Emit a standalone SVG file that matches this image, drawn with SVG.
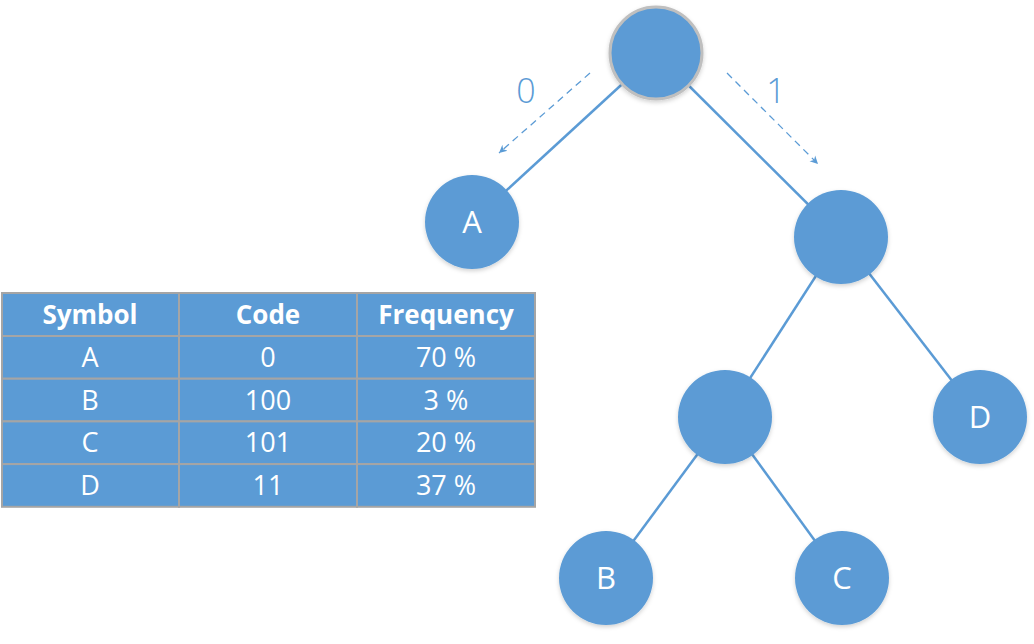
<svg xmlns="http://www.w3.org/2000/svg" width="1034" height="644" viewBox="0 0 1034 644">
<style>
.edge{stroke:#5B9BD5;stroke-width:2.5;fill:none}
.dash{stroke:#5B9BD5;stroke-width:1.3;fill:none;stroke-dasharray:7,5}
.node{fill:#5B9BD5}
.nl{font-family:"Open Sans","Liberation Sans",sans-serif;font-size:31px;fill:#fff;text-anchor:middle}
.bl{font-family:"Open Sans","Liberation Sans",sans-serif;font-size:34px;fill:#5B9BD5;text-anchor:middle;font-weight:300}
.cell{fill:#5B9BD5;stroke:#A5A5A5;stroke-width:2}
.th{font-family:"Open Sans","Liberation Sans",sans-serif;font-size:26px;font-weight:bold;fill:#fff;text-anchor:middle}
.td{font-family:"Open Sans","Liberation Sans",sans-serif;font-size:27px;fill:#fff;text-anchor:middle}
</style>
<defs>
<filter id="sh" x="-20%" y="-20%" width="140%" height="140%">
<feDropShadow dx="0" dy="2" stdDeviation="2" flood-color="#000" flood-opacity="0.18"/>
</filter>
<marker id="ah" markerWidth="10" markerHeight="10" refX="8" refY="5" orient="auto" markerUnits="userSpaceOnUse">
<path d="M0,1 L8,5 L0,9 L2.5,5 Z" fill="#5B9BD5"/>
</marker>
</defs>
<rect width="1034" height="644" fill="#fff"/>
<g id="connectors">
<line class="edge" x1="656" y1="53" x2="472" y2="222"/>
<line class="edge" x1="656" y1="53" x2="841" y2="237"/>
<line class="edge" x1="841" y1="237" x2="725" y2="417"/>
<line class="edge" x1="841" y1="237" x2="980" y2="417"/>
<line class="edge" x1="725" y1="417" x2="606" y2="578"/>
<line class="edge" x1="725" y1="417" x2="842" y2="578"/>
<line class="dash" x1="590" y1="73" x2="499" y2="153" marker-end="url(#ah)"/>
<line class="dash" x1="727" y1="73" x2="818" y2="164" marker-end="url(#ah)"/>
</g>
<g id="label0"><text class="bl" x="526" y="103">0</text></g>
<g id="label1"><text class="bl" x="776" y="103">1</text></g>
<g id="root"><circle class="node" cx="656" cy="53" r="46" stroke="#BFBFBF" stroke-width="3" filter="url(#sh)"/></g>
<g id="nodeA"><circle class="node" cx="472" cy="222" r="47" filter="url(#sh)"/><text class="nl" x="472" y="233">A</text></g>
<g id="node1"><circle class="node" cx="841" cy="237" r="47" filter="url(#sh)"/></g>
<g id="node10"><circle class="node" cx="725" cy="417" r="47" filter="url(#sh)"/></g>
<g id="nodeD"><circle class="node" cx="980" cy="417" r="47" filter="url(#sh)"/><text class="nl" x="980" y="428">D</text></g>
<g id="nodeB"><circle class="node" cx="606" cy="578" r="47" filter="url(#sh)"/><text class="nl" x="606" y="589">B</text></g>
<g id="nodeC"><circle class="node" cx="842" cy="578" r="47" filter="url(#sh)"/><text class="nl" x="842" y="589">C</text></g>
<g id="table">
<rect class="cell" x="2" y="293" width="177" height="43"/>
<rect class="cell" x="179" y="293" width="178" height="43"/>
<rect class="cell" x="357" y="293" width="178" height="43"/>
<rect class="cell" x="2" y="336" width="177" height="42.7"/>
<rect class="cell" x="179" y="336" width="178" height="42.7"/>
<rect class="cell" x="357" y="336" width="178" height="42.7"/>
<rect class="cell" x="2" y="378.7" width="177" height="42.7"/>
<rect class="cell" x="179" y="378.7" width="178" height="42.7"/>
<rect class="cell" x="357" y="378.7" width="178" height="42.7"/>
<rect class="cell" x="2" y="421.4" width="177" height="42.7"/>
<rect class="cell" x="179" y="421.4" width="178" height="42.7"/>
<rect class="cell" x="357" y="421.4" width="178" height="42.7"/>
<rect class="cell" x="2" y="464.1" width="177" height="42.7"/>
<rect class="cell" x="179" y="464.1" width="178" height="42.7"/>
<rect class="cell" x="357" y="464.1" width="178" height="42.7"/>
<text class="th" x="90" y="324">Symbol</text>
<text class="th" x="268" y="324">Code</text>
<text class="th" x="446" y="324">Frequency</text>
<text class="td" x="90" y="367">A</text>
<text class="td" x="268" y="367">0</text>
<text class="td" x="446" y="367">70 %</text>
<text class="td" x="90" y="410">B</text>
<text class="td" x="268" y="410">100</text>
<text class="td" x="446" y="410">3 %</text>
<text class="td" x="90" y="452">C</text>
<text class="td" x="268" y="452">101</text>
<text class="td" x="446" y="452">20 %</text>
<text class="td" x="90" y="495">D</text>
<text class="td" x="268" y="495">11</text>
<text class="td" x="446" y="495">37 %</text>
</g>
</svg>
